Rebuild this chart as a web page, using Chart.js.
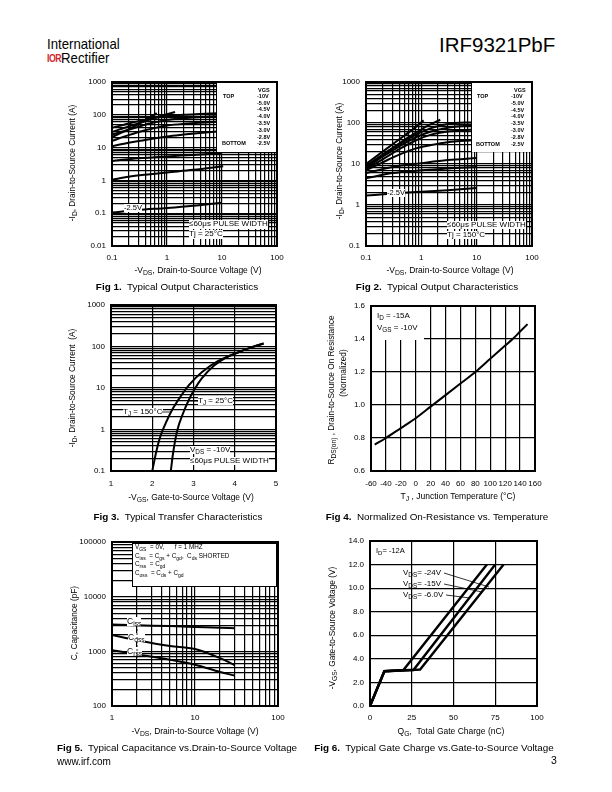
<!DOCTYPE html>
<html><head><meta charset="utf-8">
<script src="https://cdn.jsdelivr.net/npm/chart.js@4.4.0/dist/chart.umd.min.js"></script>
<style>
body{margin:0;width:612px;height:792px;position:relative;background:#fff;font-family:"Liberation Sans",Arial,sans-serif;color:#000;overflow:hidden}
.abs{position:absolute;white-space:nowrap;z-index:2;line-height:1.1}
canvas{position:absolute;z-index:1}
sub{font-size:80%;vertical-align:-0.3em;line-height:0}
.wb{background:#fff}
</style></head><body>
<script>
// ================= DATA =================
// Fig 1 – Typical Output Characteristics, Tj = 25°C  (x: -VDS [V], y: -ID [A])
const vgsList = ['-10V','-5.0V','-4.5V','-4.0V','-3.5V','-3.0V','-2.8V','-2.5V'];
const f1_a_x = [0.1,0.2,0.3,0.45,0.65];          const f1_a_y = [21,36,52,78,113];
const f1_b_x = [0.1,0.2,0.4,0.7,1.0,1.4];        const f1_b_y = [30,44,63,88,104,122];
const f1_c_x = [0.1,0.2,0.4,0.7,1,2,4,8];        const f1_c_y = [40,54,70,84,92,100,106,112];
const f1_d_x = [0.1,0.2,0.4,0.7,1,2,4,8];        const f1_d_y = [25,35,50,62,70,78,85,90];
const f1_e_x = [0.1,0.2,0.4,0.7,1,2,4,8];        const f1_e_y = [16,24,34,42,47,53,57,61];
const f1_f_x = [0.1,0.2,0.4,0.7,1,2,4,8];        const f1_f_y = [11,14,17,20,22,25,28,31];
const f1_g_x = [0.1,0.3,1,3,9.8];                const f1_g_y = [3.9,4.7,5.4,6.0,6.8];
const f1_h_x = [0.1,0.2,0.5,1,3,10.5];           const f1_h_y = [1.05,1.3,1.55,1.75,2.1,2.7];
const f1_i_x = [0.1,0.3,1,3,9.8];                const f1_i_y = [0.105,0.125,0.145,0.17,0.21];

// Fig 2 – Typical Output Characteristics, Tj = 150°C
const f2_a_x = [0.1,0.2,0.4,0.7,1.1];            const f2_a_y = [10,20,40,70,116];
const f2_b_x = [0.1,0.2,0.4,0.8,1.4,2.2];        const f2_b_y = [9,17,32,58,90,120];
const f2_c_x = [0.1,0.2,0.4,0.8,1.5,3,8.7];      const f2_c_y = [8.5,16,30,52,75,95,105];
const f2_d_x = [0.1,0.2,0.4,0.8,1.5,3,8.7];      const f2_d_y = [8,15,27,45,62,77,87];
const f2_e_x = [0.1,0.2,0.4,0.8,1.5,3,8.7];      const f2_e_y = [7.5,13,23,38,52,62,69];
const f2_f_x = [0.1,0.2,0.4,0.8,1.5,3,8.7];      const f2_f_y = [7,11,17,24,29,34,38];
const f2_g_x = [0.1,0.3,1,3,10];                 const f2_g_y = [6,8.5,10.5,12.5,14];
const f2_h_x = [0.1,0.3,1,3,10];                 const f2_h_y = [4.5,6,7,7.8,8.5];
const f2_i_x = [0.1,0.3,1,3,10];                 const f2_i_y = [1.7,1.9,2.1,2.3,2.6];

// Fig 3 – Transfer characteristics (x: -VGS [V], y: -ID [A])
const f3_t150_x = [2.0,2.1,2.2,2.35,2.5,2.7,2.9,3.2,3.6,4.0,4.4,4.7];
const f3_t150_y = [0.1,0.3,0.7,1.6,3.2,6.5,12,24,45,67,95,118];
const f3_t25_x  = [2.45,2.5,2.6,2.75,2.9,3.0,3.2,3.5,3.8,4.0,4.4,4.7];
const f3_t25_y  = [0.1,0.25,0.9,2.5,5.5,8.5,17,35,55,67,95,118];

// Fig 4 – Normalized RDS(on) vs. temperature
const f4_temp = [-55,-40,-20,0,20,40,60,80,100,120,130,140,150];
const f4_rds  = [0.76,0.80,0.86,0.92,0.99,1.06,1.13,1.20,1.28,1.36,1.40,1.445,1.49];

// Fig 5 – Capacitance vs. VDS
const f5_vds  = [1,2,5,10,20,30];
const f5_ciss = [3100,3000,2900,2800,2700,2650];
const f5_coss = [2000,1600,1250,1100,750,560];
const f5_crss = [1050,880,700,570,420,360];

// Fig 6 – Gate charge
const f6_24_q = [0,8.6,30,80];   const f6_24_v = [0,2.95,3.1,12];
const f6_15_q = [0,8.6,26,75];   const f6_15_v = [0,2.95,3.05,12];
const f6_6_q  = [0,8.6,20,70];   const f6_6_v  = [0,2.95,3.05,12];

// Tick labels
const f3_xticks = [1,2,3,4,5];
const f4_xticks = [-60,-40,-20,0,20,40,60,80,100,120,140,160];
const f4_yticks = [0.6,0.8,1.0,1.2,1.4,1.6];
const f6_xticks = [0,25,50,75,100];
const f6_yticks = [0,2,4,6,8,10,12,14];

// ================= HELPERS =================
const FONT = 'Liberation Sans';
function logTicks(min,max){
  const out=[];
  for(let e=Math.floor(Math.log10(min)); e<=Math.ceil(Math.log10(max)); e++){
    for(let d=1; d<=9; d++){
      const v = Number((d*Math.pow(10,e)).toPrecision(3));
      if(v>=min*0.999 && v<=max*1.001) out.push(v);
    }
  }
  return out;
}
function isDecade(v){const l=Math.log10(v);return Math.abs(l-Math.round(l))<1e-6;}
const tickFont = {family:FONT, size:8};
const gridOpt = {color:'#000', lineWidth:1.2, drawTicks:false};
function logAxis(min,max,pad){
  return {type:'logarithmic', min, max,
    afterBuildTicks(s){ s.ticks = logTicks(min,max).map(v=>({value:v})); },
    ticks:{autoSkip:false, maxRotation:0, padding:pad, color:'#000', font:tickFont,
      callback(v){ return isDecade(v) ? String(v) : ''; }},
    grid:gridOpt, border:{display:false}};
}
function linAxis(list,pad,fmt){
  const min=list[0], max=list[list.length-1];
  return {type:'linear', min, max,
    afterBuildTicks(s){ s.ticks = list.map(v=>({value:v})); },
    ticks:{autoSkip:false, maxRotation:0, padding:pad, color:'#000', font:tickFont,
      callback(v){ return fmt ? fmt(v) : String(v); }},
    grid:gridOpt, border:{display:false}};
}
function ds(xs,ys,extra){
  return Object.assign({data:xs.map((x,i)=>({x, y:ys[i]})), borderColor:'#000', borderWidth:2,
    pointRadius:0, fill:false, cubicInterpolationMode:'monotone'}, extra||{});
}
const frame = {id:'frame', afterDraw(ch){const a=ch.chartArea,c=ch.ctx;c.save();c.strokeStyle='#000';c.lineWidth=2;
  c.strokeRect(a.left,a.top,a.right-a.left,a.bottom-a.top);c.restore();}};
function mk(L,T,R,B,xs,ys,datasets){
  const yW=48,pT=8,pR=16,xH=24;
  const c=document.createElement('canvas');
  c.width=(R-L)+yW+pR; c.height=(B-T)+pT+xH;
  c.style.left=(L-yW)+'px'; c.style.top=(T-pT)+'px';
  c.style.width=c.width+'px'; c.style.height=c.height+'px';
  document.body.appendChild(c);
  xs.afterFit=function(s){s.height=xH;s.paddingLeft=0;s.paddingRight=0;};
  ys.afterFit=function(s){s.width=yW;s.paddingTop=0;s.paddingBottom=0;};
  new Chart(c,{type:'line',data:{datasets},
    options:{responsive:false,animation:false,maintainAspectRatio:false,
      layout:{padding:{top:pT,right:pR,left:0,bottom:0}},
      plugins:{legend:{display:false},tooltip:{enabled:false}},
      scales:{x:xs,y:ys}},
    plugins:[frame]});
}
function put(html,x,y,size,o){
  o=o||{};
  const d=document.createElement('div');
  d.className='abs'+(o.bg?' wb':'');
  d.innerHTML=html; d.style.fontSize=size+'px';
  d.style.left=x+'px'; d.style.top=(y-size*0.55)+'px';
  if(o.bold) d.style.fontWeight='bold';
  if(o.center) d.style.transform='translateX(-50%)';
  if(o.rot){ d.style.top=y+'px'; d.style.transform='translate(-50%,-50%) rotate(-90deg)'; }
  if(o.style) d.style.cssText+=o.style;
  document.body.appendChild(d);
  return d;
}
function box(x,y,w,h,border){
  const d=document.createElement('div');
  d.className='abs wb';
  d.style.cssText+=`left:${x}px;top:${y}px;width:${w}px;height:${h}px;`+(border?'border:1px solid #000;box-sizing:border-box;':'');
  document.body.appendChild(d);
}

// ================= CHARTS =================
mk(112,82,277,246, logAxis(0.1,100,7), logAxis(0.01,1000,6), [
  ds(f1_a_x,f1_a_y),ds(f1_b_x,f1_b_y),ds(f1_c_x,f1_c_y),ds(f1_d_x,f1_d_y),ds(f1_e_x,f1_e_y),
  ds(f1_f_x,f1_f_y),ds(f1_g_x,f1_g_y),ds(f1_h_x,f1_h_y),ds(f1_i_x,f1_i_y)]);
mk(366,82,532,246, logAxis(0.1,100,7), logAxis(0.1,1000,6), [
  ds(f2_a_x,f2_a_y),ds(f2_b_x,f2_b_y),ds(f2_c_x,f2_c_y),ds(f2_d_x,f2_d_y),ds(f2_e_x,f2_e_y),
  ds(f2_f_x,f2_f_y),ds(f2_g_x,f2_g_y),ds(f2_h_x,f2_h_y),ds(f2_i_x,f2_i_y)]);
mk(111,305,276,471, linAxis(f3_xticks,8), logAxis(0.1,1000,6), [
  ds(f3_t150_x,f3_t150_y), ds(f3_t25_x,f3_t25_y)]);
mk(371,306,535,471, linAxis(f4_xticks,8), linAxis(f4_yticks,6,v=>v.toFixed(1)), [
  ds(f4_temp,f4_rds)]);
mk(112,542,278,706, logAxis(1,100,7), logAxis(100,100000,6), [
  ds(f5_vds,f5_ciss), ds(f5_vds,f5_coss), ds(f5_vds,f5_crss)]);
mk(370,541,537,706, linAxis(f6_xticks,7), linAxis(f6_yticks,6,v=>v.toFixed(1)), [
  ds(f6_24_q,f6_24_v,{cubicInterpolationMode:'default',tension:0,borderWidth:2.4}),
  ds(f6_15_q,f6_15_v,{cubicInterpolationMode:'default',tension:0,borderWidth:2.4}),
  ds(f6_6_q,f6_6_v,{cubicInterpolationMode:'default',tension:0,borderWidth:2.4})]);

// ================= TEXT / OVERLAYS =================
// header
put('International',47,44,15,{style:'transform:scaleX(0.88);transform-origin:0 0;'});
put('<b style="color:#d0262c;font-size:10px;letter-spacing:-0.6px;vertical-align:1px">IOR</b>Rectifier',47,58.5,15,{style:'transform:scaleX(0.88);transform-origin:0 0;'});
put('IRF9321PbF',439,45,20.5);

// Fig 1
box(217,83,59,69);
put('VGS',258,90.5,5.5,{bold:true});
vgsList.forEach((v,i)=>{ put(v,257,96+i*6.76,5.5,{bold:true}); });
put('TOP',223,96,5.5,{bold:true});
put('BOTTOM',222,96+7*6.76,5.5,{bold:true});
put('≤60μs PULSE WIDTH',189,224.3,8,{bg:true});
put('Tj = 25°C',189,234.5,8,{bg:true});
put('-2.5V',124,208.3,7.5,{bg:true});
put('-I<sub>D</sub>, Drain-to-Source Current (A)',73,163,8.3,{rot:true});
put('-V<sub>DS</sub>, Drain-to-Source Voltage (V)',198,271,8.5,{center:true});
put('<b>Fig 1.</b>&nbsp; Typical Output Characteristics',177,287,9.9,{center:true});

// Fig 2
box(472,83,59,69);
put('VGS',514,90.5,5.5,{bold:true});
vgsList.forEach((v,i)=>{ put(v,511,96+i*6.8,5.5,{bold:true}); });
put('TOP',477,96,5.5,{bold:true});
put('BOTTOM',476,96+7*6.8,5.5,{bold:true});
put('≤60μs PULSE WIDTH',447,225,8,{bg:true});
put('Tj = 150°C',447,235,8,{bg:true});
put('-2.5V',387,193.3,7.5,{bg:true});
put('-I<sub>D</sub>, Drain-to-Source Current (A)',340,161,8.3,{rot:true});
put('-V<sub>DS</sub>, Drain-to-Source Voltage (V)',450,271,8.5,{center:true});
put('<b>Fig 2.</b>&nbsp; Typical Output Characteristics',437,287,9.9,{center:true});

// Fig 3
put('T<sub>J</sub> = 150°C',123,412,8,{bg:true});
put('T<sub>J</sub> = 25°C',198,401,8,{bg:true});
put('V<sub>DS</sub> = -10V',190,450,8,{bg:true});
put('≤60μs PULSE WIDTH',190,461,8,{bg:true});
put('-I<sub>D</sub>, Drain-to-Source Current &nbsp;(A)',73,388,8.3,{rot:true});
put('-V<sub>GS</sub>, Gate-to-Source Voltage (V)',191,498,8.5,{center:true});
put('<b>Fig 3.</b>&nbsp; Typical Transfer Characteristics',178,517,9.9,{center:true});

// Fig 4
box(372,307,52,33);
put('I<sub>D</sub> = -15A',377,316,8);
put('V<sub>GS</sub> = -10V',377,328,8);
put('R<sub>DS(on)</sub> , Drain-to-Source On Resistance',332,390,8.3,{rot:true});
put('(Normalized)',344,373,8.3,{rot:true});
put('T<sub>J</sub> , Junction Temperature (°C)',458,497,8.5,{center:true});
put('<b>Fig 4.</b>&nbsp; Normalized On-Resistance vs. Temperature',437,517,9.9,{center:true});

// Fig 5
box(132,543,145,44,true);
put('V<sub>GS</sub> &nbsp;= 0V, &nbsp; &nbsp; &nbsp;f = 1 MHZ',135,547.5,6.3);
put('C<sub>iss</sub> &nbsp;= C<sub>gs</sub> + C<sub>gd</sub>, &nbsp;C<sub>ds</sub> SHORTED',135,556,6.3);
put('C<sub>rss</sub> &nbsp;= C<sub>gd</sub>',135,564.5,6.3);
put('C<sub>oss</sub> &nbsp;= C<sub>ds</sub> + C<sub>gd</sub>',135,573,6.3);
put('C<sub>iss</sub>',127,621.7,8.5,{bg:true});
put('C<sub>oss</sub>',128,637.3,8.5,{bg:true});
put('C<sub>rss</sub>',127,651.7,8.5,{bg:true});
put('C, Capacitance (pF)',75,623,8.3,{rot:true});
put('-V<sub>DS</sub>, Drain-to-Source Voltage (V)',195,732,8.5,{center:true});
put('<b>Fig 5.</b>&nbsp; Typical Capacitance vs.Drain-to-Source Voltage',177,748,9.9,{center:true});

// Fig 6
put('I<sub>D</sub>= -12A',376,551,7.5);
put('V<sub>DS</sub>= -24V',403,573,8);
put('V<sub>DS</sub>= -15V',403,584,8);
put('V<sub>DS</sub>= -6.0V',403,595,8);
put('-V<sub>GS</sub>, Gate-to-Source Voltage (V)',333,628,8.3,{rot:true});
put('Q<sub>G</sub>, &nbsp;Total Gate Charge (nC)',451,732,8.5,{center:true});
put('<b>Fig 6.</b>&nbsp; Typical Gate Charge vs.Gate-to-Source Voltage',434,748,9.9,{center:true});

// footer
put('www.irf.com',57,761,10);
put('3',551,761,10.5);

// leader lines
const svgNS='http://www.w3.org/2000/svg';
const svg=document.createElementNS(svgNS,'svg');
svg.setAttribute('width','612');svg.setAttribute('height','792');
svg.style.cssText='position:absolute;left:0;top:0;z-index:3;pointer-events:none';
function ln(x1,y1,x2,y2,dash){const l=document.createElementNS(svgNS,'line');
  l.setAttribute('x1',x1);l.setAttribute('y1',y1);l.setAttribute('x2',x2);l.setAttribute('y2',y2);
  l.setAttribute('stroke','#000');l.setAttribute('stroke-width','0.8');if(dash)l.setAttribute('stroke-dasharray',dash);svg.appendChild(l);}
ln(162,412,171,412); ln(189,401,198,401);
ln(137,629,137,658,'2,2');
ln(444,573,489,587); ln(444,584,482,592); ln(446,595,470,598);
document.body.appendChild(svg);
</script>
</body></html>
